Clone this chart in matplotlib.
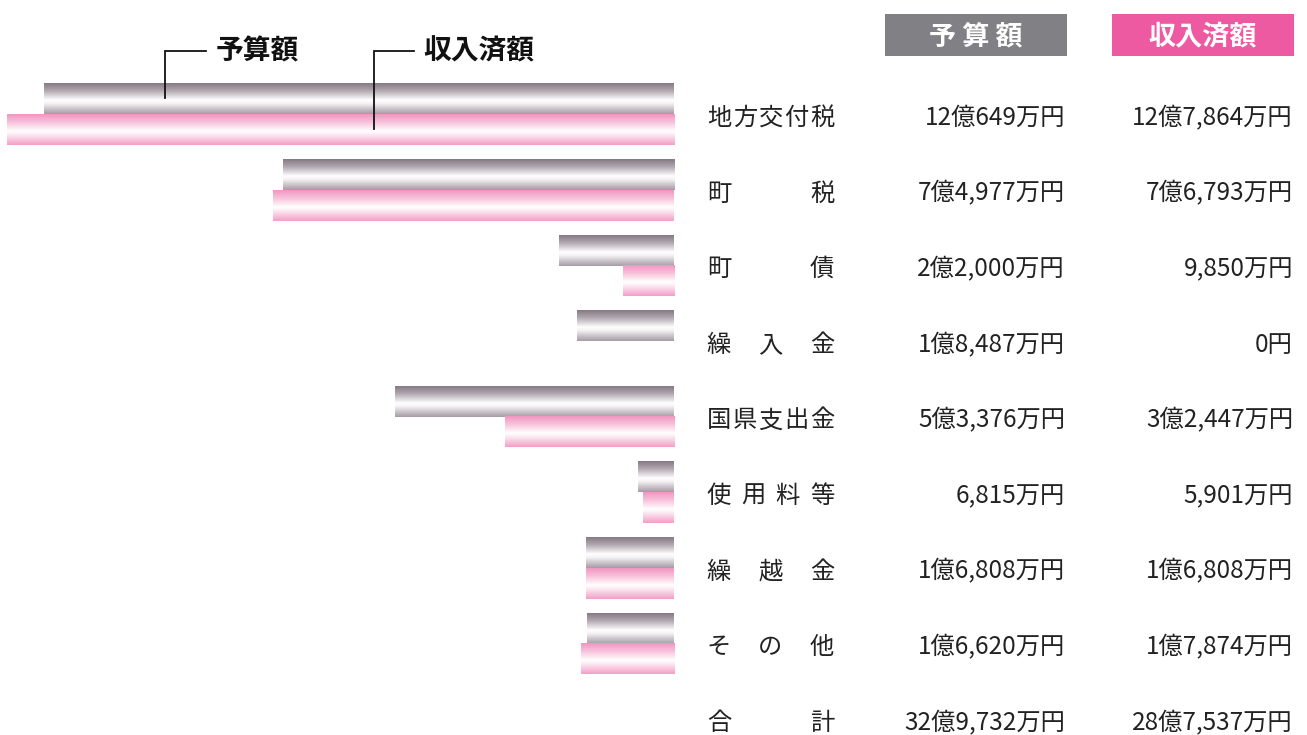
import numpy as np
import matplotlib
matplotlib.use("Agg")
import matplotlib.pyplot as plt
from matplotlib.colors import LinearSegmentedColormap
from matplotlib.patches import Rectangle

plt.rcParams['font.family'] = ['Noto Sans CJK JP', 'DejaVu Sans']

# ---- data (万円) ----
categories = ["地方交付税", "町税", "町債", "繰入金", "国県支出金", "使用料等", "繰越金", "その他", "合計"]
budget = [120649, 74977, 22000, 18487, 53376, 6815, 16808, 16620]
received = [127864, 76793, 9850, 0, 32447, 5901, 16808, 17874]
budget_labels = ["12億649万円", "7億4,977万円", "2億2,000万円", "1億8,487万円", "5億3,376万円",
                 "6,815万円", "1億6,808万円", "1億6,620万円", "32億9,732万円"]
received_labels = ["12億7,864万円", "7億6,793万円", "9,850万円", "0円", "3億2,447万円",
                   "5,901万円", "1億6,808万円", "1億7,874万円", "28億7,537万円"]
header_budget = "予 算 額"
header_received = "収入済額"
legend_budget = "予算額"
legend_received = "収入済額"

W, H = 1307, 735
fig = plt.figure(figsize=(W / 100, H / 100), dpi=100)

# bar axes
bar_right = 674
scale = 0.00522  # px per 万円
row0 = 114.5
step = 75.6
bax = fig.add_axes([0, 0, bar_right / W, 1])
xmax = bar_right / scale
ytop = -row0 / step
ybot = (H - row0) / step
bax.axis('off')

gray_cmap = LinearSegmentedColormap.from_list(
    "g", [(0, "#877a86"), (0.25, "#b3a9b2"), (0.55, "#ffffff"), (0.65, "#f6f4f6"), (1.0, "#a69ca5")])
pink_cmap = LinearSegmentedColormap.from_list(
    "p", [(0, "#f197c2"), (0.25, "#f7c0da"), (0.55, "#ffffff"), (0.65, "#fdeef5"), (1.0, "#f39fc7")])
grad = np.linspace(0, 1, 64).reshape(-1, 1)

bh = 0.403
for i, (b, r) in enumerate(zip(budget, received)):
    if b > 0:
        bax.imshow(grad, cmap=gray_cmap, extent=(b, 0, i, i - bh), origin='upper',
                   aspect='auto', interpolation='bilinear')
    if r > 0:
        bax.imshow(grad, cmap=pink_cmap, extent=(r, 0, i + bh, i), origin='upper',
                   aspect='auto', interpolation='bilinear')
bax.set_xlim(xmax, 0)
bax.set_ylim(ybot, ytop)

# text / overlay axes in pixel coordinates (on top of bars)
tax = fig.add_axes([0, 0, 1, 1])
tax.set_xlim(0, W)
tax.set_ylim(H, 0)
tax.axis('off')

# legend callouts
fs_leg = 20
tax.text(216, 51, legend_budget, fontsize=fs_leg, fontweight='bold', va='center', ha='left', color='#111111')
tax.text(423, 51, legend_received, fontsize=fs_leg, fontweight='bold', va='center', ha='left', color='#111111')
tax.plot([206, 165, 165], [51, 51, 98], color='#111111', lw=1.3, solid_joinstyle='miter')
tax.plot([414, 374, 374], [51, 51, 129], color='#111111', lw=1.3, solid_joinstyle='miter')

# header boxes
tax.add_patch(Rectangle((885, 14), 182, 42, facecolor='#808085', edgecolor='none'))
tax.add_patch(Rectangle((1112, 14), 182, 42, facecolor='#ee5aa2', edgecolor='none'))
tax.text(976, 36, header_budget, fontsize=19.5, color='white', ha='center', va='center', fontweight='bold')
tax.text(1203, 36, header_received, fontsize=19.5, color='white', ha='center', va='center', fontweight='bold')

# table text
fs = 17.5
cw = 25.8
lab_left, lab_right = 706, 835
for i, cat in enumerate(categories):
    y = row0 + step * i + 3.5
    n = len(cat)
    if n == 1:
        xs = [lab_left + cw / 2]
    else:
        st = (lab_right - lab_left - cw) / (n - 1)
        xs = [lab_left + cw / 2 + k * st for k in range(n)]
    for ch, x in zip(cat, xs):
        tax.text(x, y, ch, fontsize=fs, ha='center', va='center', color='#222222')
    tax.text(1065, y, budget_labels[i], fontsize=fs, ha='right', va='center', color='#222222')
    tax.text(1293, y, received_labels[i], fontsize=fs, ha='right', va='center', color='#222222')

fig.savefig("out.png", dpi=100)
